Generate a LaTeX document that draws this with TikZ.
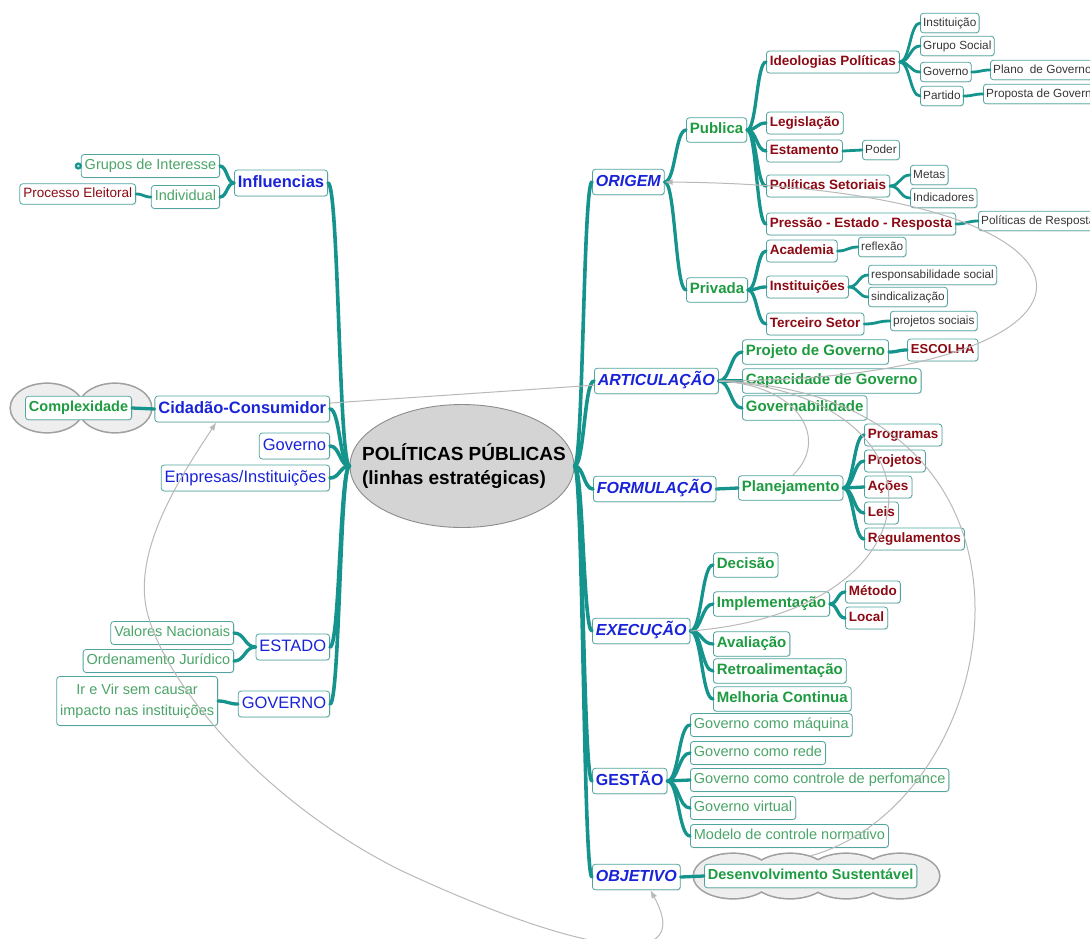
\documentclass[tikz,border=0pt]{standalone}
\usepackage{fontspec}
\setmainfont{Liberation Sans}
\usetikzlibrary{arrows.meta,shapes.geometric,shadows}

\definecolor{branchc}{RGB}{20,148,140}
\definecolor{boxline}{RGB}{80,165,160}
\definecolor{tblue}{RGB}{25,35,215}
\definecolor{tgreen}{RGB}{30,155,65}
\definecolor{lgreen}{RGB}{75,165,105}
\definecolor{dred}{RGB}{140,10,20}
\definecolor{leafgray}{RGB}{55,55,55}
\definecolor{relgray}{RGB}{185,185,185}
\definecolor{hubfill}{RGB}{212,212,212}
\definecolor{hubline}{RGB}{140,140,140}
\definecolor{cloudfill}{RGB}{238,238,238}
\definecolor{cloudline}{RGB}{160,160,160}

\newcommand\mmfs[1]{\fontsize{#1}{#1}\selectfont}

% branch from a parent on the left to a child on the right
\newcommand\linkR[3][]{%
  \path (#2.east) -- coordinate[pos=.5] (lkmid) (#3.west);
  \draw[branch,#1] (#2.east) .. controls (lkmid |- #2.east) and (lkmid |- #3.west) .. (#3.west);}
% branch from a parent on the right to a child on the left
\newcommand\linkL[3][]{%
  \path (#2.west) -- coordinate[pos=.5] (lkmid) (#3.east);
  \draw[branch,#1] (#2.west) .. controls (lkmid |- #2.west) and (lkmid |- #3.east) .. (#3.east);}

\tikzset{
  topic/.style={draw=boxline, line width=0.8pt, rounded corners=3pt, fill=white,
    inner xsep=3.5pt, inner ysep=0pt,
    drop shadow={shadow xshift=0.8pt, shadow yshift=-0.8pt, opacity=0.18}},
  hub/.style={ellipse, draw=hubline, fill=hubfill, line width=0.9pt,
    minimum width=224pt, minimum height=123pt, inner sep=0pt},
  hubtext/.style={align=left, inner sep=0pt,
    font=\fontsize{19}{24}\selectfont\bfseries, text=black},
  rmain/.style={topic, font=\mmfs{16}\bfseries\itshape, text=tblue,
    minimum height=25.5pt, text height=11.5pt, text depth=3.4pt},
  rmainup/.style={rmain, font=\mmfs{16}\bfseries},
  lmainb/.style={topic, font=\mmfs{16.5}\bfseries, text=tblue,
    minimum height=26pt, text height=11.8pt, text depth=3.5pt},
  lmain/.style={lmainb, font=\mmfs{16.5}},
  gbold/.style={topic, font=\mmfs{15}\bfseries, text=tgreen,
    minimum height=24.5pt, text height=10.8pt, text depth=3.2pt},
  gbolds/.style={gbold, font=\mmfs{14.5}\bfseries, minimum height=23.5pt},
  rbold/.style={topic, font=\mmfs{13.5}\bfseries, text=dred,
    minimum height=22pt, text height=9.7pt, text depth=2.9pt},
  rreg/.style={rbold, font=\mmfs{13.5}, minimum height=20.5pt},
  leaf/.style={topic, font=\mmfs{11.8}, text=leafgray, inner xsep=2.8pt,
    minimum height=19.5pt, text height=8.5pt, text depth=2.5pt},
  lgrnbase/.style={topic, font=\fontsize{14.5}{21}\selectfont, text=lgreen, minimum height=23pt},
  lgrn/.style={lgrnbase, text height=10.4pt, text depth=3.1pt},
  branch/.style={draw=branchc, line width=3.3pt, line cap=round},
  thin branch/.style={line width=2.8pt},
  rel/.style={draw=relgray, line width=1pt},
  reltip/.style={-{Latex[length=8pt,width=6pt]}},
}

\begin{document}
\begin{tikzpicture}[x=1pt, y=-1pt]
\useasboundingbox (0,0) rectangle (1090,938);
\fill[white] (0,0) rectangle (1090,938);
\clip (0,0) rectangle (1090,938);

% ---- clouds behind two topics
\foreach \cx in {47,115}
  \draw[cloudline, line width=3.2pt] (\cx,408) ellipse [x radius=36pt, y radius=24pt];
\foreach \cx in {47,115}
  \fill[cloudfill] (\cx,408) ellipse [x radius=36pt, y radius=24pt];
\foreach \cx in {733,790,846,900}
  \draw[cloudline, line width=3.2pt] (\cx,876) ellipse [x radius=39pt, y radius=22pt];
\foreach \cx in {733,790,846,900}
  \fill[cloudfill] (\cx,876) ellipse [x radius=39pt, y radius=22pt];

% ---- central topic
\node[hub] (hub) at (462,466) {};
\node[hubtext] (hubtitle) at ([xshift=2pt]hub.center) {POLÍTICAS PÚBLICAS\\(linhas estratégicas)};

% ---- left side
\node[lmainb, anchor=east] (influ) at (328,183) {Influencias};
\node[lgrn, anchor=east] (grupos) at (220,166) {Grupos de Interesse};
\node[lgrn, anchor=east] (individual) at (220,197) {Individual};
\node[rreg, anchor=east] (processo) at (136,194) {Processo Eleitoral};
\node[circle, draw=branchc, fill=branchc!35, line width=2pt, inner sep=1.8pt] (gmark) at ([xshift=-2.5pt]grupos.west) {};
\node[lmainb, anchor=east] (cidadao) at (330,409) {Cidadão-Consumidor};
\node[gbolds, anchor=east] (complex) at (132,408) {Complexidade};
\node[lmain, anchor=east] (govL) at (330,446) {Governo};
\node[lmain, anchor=east] (empresas) at (330,478) {Empresas/Instituições};
\node[lmain, anchor=east] (estado) at (330,647) {ESTADO};
\node[lgrn, anchor=east] (valores) at (234,633) {Valores Nacionais};
\node[lgrn, anchor=east] (ordena) at (234,661) {Ordenamento Jurídico};
\node[lmain, anchor=east] (govU) at (330,704) {GOVERNO};
\node[lgrnbase, anchor=east, align=center, minimum height=49pt] (irvir) at (218,701)
  {Ir e Vir sem causar\\impacto nas instituições};

% ---- right side, main branches
\node[rmain, anchor=west] (origem) at (592,182) {ORIGEM};
\node[rmain, anchor=west] (artic) at (594,381) {ARTICULAÇÃO};
\node[rmain, anchor=west] (formul) at (593,489) {FORMULAÇÃO};
\node[rmain, anchor=west] (exec) at (592,631) {EXECUÇÃO};
\node[rmainup, anchor=west] (gestao) at (592,781) {GESTÃO};
\node[rmain, anchor=west] (objetivo) at (592,877) {OBJETIVO};

% ORIGEM
\node[gbold, anchor=west] (publica) at (686,130) {Publica};
\node[gbold, anchor=west] (privada) at (686,290) {Privada};
\node[rbold, anchor=west] (ideol) at (766,62) {Ideologias Políticas};
\node[rbold, anchor=west] (legis) at (766,123) {Legislação};
\node[rbold, anchor=west] (estam) at (766,151) {Estamento};
\node[rbold, anchor=west] (setor) at (766,186) {Políticas Setoriais};
\node[rbold, anchor=west] (pressao) at (766,224) {Pressão - Estado - Resposta};
\node[leaf, anchor=west] (instit) at (920,23) {Instituição};
\node[leaf, anchor=west] (grsoc) at (920,46) {Grupo Social};
\node[leaf, anchor=west] (govI) at (920,72) {Governo};
\node[leaf, anchor=west] (partido) at (920,96) {Partido};
\node[leaf, anchor=west] (plano) at (990,70) {Plano\ \ de Governo};
\node[leaf, anchor=west] (proposta) at (983,94) {Proposta de Governo};
\node[leaf, anchor=west] (poder) at (862,150) {Poder};
\node[leaf, anchor=west] (metas) at (910,175) {Metas};
\node[leaf, anchor=west] (indic) at (910,198) {Indicadores};
\node[leaf, anchor=west] (resposta) at (978,221) {Políticas de Resposta};
\node[rbold, anchor=west] (academia) at (766,251) {Academia};
\node[rbold, anchor=west] (instits) at (766,287) {Instituições};
\node[rbold, anchor=west] (terceiro) at (766,324) {Terceiro Setor};
\node[leaf, anchor=west] (reflexao) at (858,247) {reflexão};
\node[leaf, anchor=west] (respsoc) at (868,275) {responsabilidade social};
\node[leaf, anchor=west] (sindic) at (868,297) {sindicalização};
\node[leaf, anchor=west] (projsoc) at (890,321) {projetos sociais};

% ARTICULAÇÃO
\node[gbold, anchor=west] (projgov) at (742,352) {Projeto de Governo};
\node[rbold, anchor=west, font=\mmfs{13}\bfseries] (escolha) at (907,350) {ESCOLHA};
\node[gbold, anchor=west] (capac) at (742,381) {Capacidade de Governo};
\node[gbold, anchor=west] (governab) at (742,408) {Governabilidade};

% FORMULAÇÃO
\node[gbold, anchor=west] (planej) at (738,488) {Planejamento};
\node[rbold, anchor=west] (programas) at (864,435) {Programas};
\node[rbold, anchor=west] (projetos) at (864,461) {Projetos};
\node[rbold, anchor=west] (acoes) at (864,487) {Ações};
\node[rbold, anchor=west] (leis) at (864,513) {Leis};
\node[rbold, anchor=west] (regul) at (864,539) {Regulamentos};

% EXECUÇÃO
\node[gbold, anchor=west] (decisao) at (713,565) {Decisão};
\node[gbold, anchor=west] (implem) at (713,604) {Implementação};
\node[gbold, anchor=west] (avalia) at (713,644) {Avaliação};
\node[gbold, anchor=west] (retro) at (713,671) {Retroalimentação};
\node[gbold, anchor=west] (melhoria) at (713,699) {Melhoria Continua};
\node[rbold, anchor=west] (metodo) at (845,592) {Método};
\node[rbold, anchor=west] (local) at (845,618) {Local};

% GESTÃO
\node[lgrn, anchor=west] (gmaq) at (690,725) {Governo como máquina};
\node[lgrn, anchor=west] (grede) at (690,753) {Governo como rede};
\node[lgrn, anchor=west] (gctrl) at (690,780) {Governo como controle de perfomance};
\node[lgrn, anchor=west] (gvirt) at (690,808) {Governo virtual};
\node[lgrn, anchor=west] (gmod) at (690,836) {Modelo de controle normativo};

% OBJETIVO
\node[gbolds, anchor=west] (desenv) at (704,876) {Desenvolvimento Sustentável};

% ---- branches, left
\foreach \c in {influ,cidadao,govL,empresas,estado,govU} {\linkL[line width=3.6pt]{hub}{\c}}
\linkL{influ}{grupos}
\linkL{influ}{individual}
\linkL[thin branch]{individual}{processo}
\linkL{cidadao}{complex}
\linkL{estado}{valores}
\linkL{estado}{ordena}
\linkL{govU}{irvir}

% ---- branches, right
\foreach \c in {origem,artic,formul,exec,gestao,objetivo} {\linkR[line width=3.6pt]{hub}{\c}}
\linkR{origem}{publica}
\linkR{origem}{privada}
\foreach \c in {ideol,legis,estam,setor,pressao} {\linkR{publica}{\c}}
\foreach \c in {instit,grsoc,govI,partido} {\linkR[thin branch]{ideol}{\c}}
\linkR[thin branch]{govI}{plano}
\linkR[thin branch]{partido}{proposta}
\linkR[thin branch]{estam}{poder}
\linkR[thin branch]{setor}{metas}
\linkR[thin branch]{setor}{indic}
\linkR[thin branch]{pressao}{resposta}
\foreach \c in {academia,instits,terceiro} {\linkR{privada}{\c}}
\linkR[thin branch]{academia}{reflexao}
\linkR[thin branch]{instits}{respsoc}
\linkR[thin branch]{instits}{sindic}
\linkR[thin branch]{terceiro}{projsoc}
\foreach \c in {projgov,capac,governab} {\linkR{artic}{\c}}
\linkR{projgov}{escolha}
\linkR{formul}{planej}
\foreach \c in {programas,projetos,acoes,leis,regul} {\linkR{planej}{\c}}
\foreach \c in {decisao,implem,avalia,retro,melhoria} {\linkR{exec}{\c}}
\linkR{implem}{metodo}
\linkR{implem}{local}
\foreach \c in {gmaq,grede,gctrl,gvirt,gmod} {\linkR{gestao}{\c}}
\linkR{objetivo}{desenv}

% ---- relationship lines
\draw[rel, reltip] (artic.east) .. controls (1150,380) and (1150,186) .. (origem.east);
\draw[rel] (cidadao) -- (artic);
\draw[rel] (artic.east) .. controls (1080,395) and (1010,800) .. ([yshift=8pt]desenv.north);
\draw[rel] (artic.east) .. controls (800,385) and (830,440) .. ([xshift=2pt]planej.north);
\draw[rel] (artic.east) .. controls (950,395) and (950,610) .. (exec.east);
\coordinate (bendA) at (145,600);
\coordinate (bendB) at (400,870);
\draw[rel, {Latex[length=8pt,width=6pt]}-{Latex[length=8pt,width=6pt]}]
  ([xshift=-26pt]cidadao.south) .. controls (185,470) and (138,540) .. (bendA)
  .. controls (152,665) and (250,795) .. (bendB)
  .. controls (560,945) and (700,980) .. ([xshift=14pt]objetivo.south);
\end{tikzpicture}
\end{document}
